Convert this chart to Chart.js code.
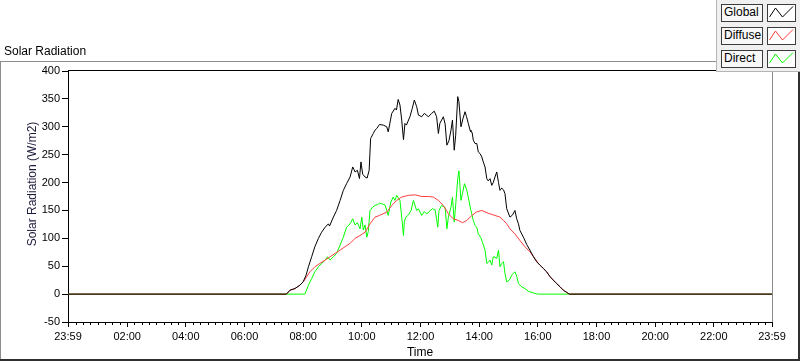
<!DOCTYPE html>
<html><head><meta charset="utf-8">
<script src="https://cdn.jsdelivr.net/npm/chart.js@4/dist/chart.umd.min.js"></script>
<style>
body{margin:0;background:#fff;width:800px;height:361px;overflow:hidden;position:relative;font-family:"Liberation Sans",Arial,sans-serif;color:#000;}
#wrap{position:absolute;left:0;top:0;width:800px;height:361px;}
.abs{position:absolute;box-sizing:border-box;}
.lbl{left:721px;width:42px;height:18px;border:1px solid #3c3c3c;background:#f8f8f8;font-size:12px;line-height:15px;padding-left:2px;}
.ico{left:767px;width:29px;height:18px;border:1px solid #3c3c3c;background:#fff;}
.ico svg{position:absolute;left:0;top:0;}
</style></head><body>
<div id="wrap"><canvas id="c" width="800" height="361"></canvas></div>
<div class="abs" style="left:4px;top:44px;font-size:12px;line-height:14px;">Solar Radiation</div>
<div class="abs" style="left:0;top:61px;width:717px;height:1px;background:#8c8c8c;"></div>
<div class="abs" style="left:0;top:61px;width:1px;height:299px;background:#8c8c8c;"></div>
<div class="abs" style="left:0;top:359px;width:800px;height:2px;background:#303030;"></div>
<div class="abs" style="left:798px;top:72px;width:2px;height:289px;background:#303030;"></div>
<div class="abs" style="left:716px;top:0;width:84px;height:72px;background:#f0f0f0;border-left:1px solid #b4b4b4;border-bottom:1px solid #b4b4b4;"></div>
<div id="legend"></div>
<script>
// ---- data (hours of day, W/m2) ----
const startHour = -1/60;           // 23:59 of previous day
const endHour = 24 - 1/60;         // 23:59
const xTickHours = [-1/60, 2, 4, 6, 8, 10, 12, 14, 16, 18, 20, 22, 24 - 1/60];
const xTickLabels = ['23:59','02:00','04:00','06:00','08:00','10:00','12:00','14:00','16:00','18:00','20:00','22:00','23:59'];
const yTickMin = -50, yTickMax = 400, yTickStep = 50;
const seriesNames = ['Global', 'Diffuse', 'Direct'];
const seriesColors = ['#000000', '#ff3c3c', '#00ff00'];

const globalReadings = [
 [-0.0167,0],[7.43,0],[7.55,7],[7.72,10],[7.89,16],[8.0,22],[8.1,34],[8.18,49],[8.29,67],[8.4,85],
 [8.52,100],[8.63,111],[8.75,120],[8.86,126],[8.9,122],[9.03,138],[9.14,150],[9.26,168],[9.37,186],[9.48,198],
 [9.6,210],[9.69,228],[9.77,219],[9.85,222],[9.92,207],[9.97,237],[10.03,215],[10.11,210],[10.18,208],[10.25,222],
 [10.3,279],[10.39,288],[10.45,294],[10.51,297],[10.6,304],[10.73,303],[10.85,300],[10.9,291],[11.02,324],[11.13,333],
 [11.18,330],[11.24,349],[11.3,339],[11.36,312],[11.42,277],[11.47,306],[11.52,303],[11.64,318],[11.72,333],[11.79,348],
 [11.87,336],[11.93,321],[12.04,318],[12.13,324],[12.2,321],[12.27,318],[12.38,324],[12.47,328],[12.55,318],[12.61,288],
 [12.66,306],[12.78,318],[12.84,305],[12.9,267],[12.97,275],[13.04,294],[13.09,312],[13.15,258],[13.2,285],[13.27,354],
 [13.31,345],[13.38,300],[13.45,315],[13.52,327],[13.57,318],[13.63,306],[13.69,294],[13.72,291],[13.76,290],[13.8,276],
 [13.86,270],[13.92,270],[13.97,255],[14.03,252],[14.09,246],[14.14,237],[14.2,228],[14.26,207],[14.31,203],[14.37,207],
 [14.43,195],[14.48,200],[14.54,210],[14.6,219],[14.66,200],[14.71,186],[14.77,190],[14.83,187],[14.88,180],[14.94,153],
 [15.05,138],[15.14,142],[15.22,150],[15.28,135],[15.34,126],[15.39,114],[15.51,102],[15.62,89],[15.73,79],[15.85,67],
 [15.96,58],[16.07,52],[16.19,46],[16.3,40],[16.42,31],[16.53,25],[16.64,19],[16.76,13],[16.87,7],[16.99,3],
 [17.07,0],[23.983,0]
];
const diffuseReadings = [
 [-0.0167,0],[7.43,0],[7.55,7],[7.72,10],[7.89,16],[8.0,22],[8.06,26],[8.23,40],[8.4,49],[8.57,55],
 [8.75,61],[8.92,67],[9.09,73],[9.26,79],[9.43,85],[9.6,91],[9.77,100],[9.94,105],[10.11,111],[10.28,126],
 [10.45,138],[10.6,141],[10.85,147],[11.02,159],[11.19,168],[11.36,174],[11.59,177],[11.82,178],[12.04,175],[12.27,175],
 [12.44,174],[12.61,168],[12.78,159],[12.95,144],[13.12,135],[13.29,132],[13.43,128],[13.58,132],[13.75,141],[13.9,147],
 [14.09,150],[14.31,145],[14.54,141],[14.71,138],[14.83,132],[14.94,126],[15.05,117],[15.22,108],[15.39,96],[15.56,85],
 [15.73,76],[15.9,64],[16.02,55],[16.19,46],[16.3,40],[16.42,31],[16.53,25],[16.64,19],[16.76,13],[16.87,7],
 [16.99,3],[17.07,0],[23.983,0]
];
const directReadings = [
 [-0.0167,0],[8.06,0],[8.18,16],[8.29,28],[8.4,40],[8.52,49],[8.63,55],[8.75,61],[8.83,67],[8.92,61],
 [9.03,67],[9.14,73],[9.26,88],[9.37,102],[9.48,120],[9.6,126],[9.69,135],[9.77,124],[9.85,128],[9.94,117],
 [10.0,138],[10.05,115],[10.11,124],[10.17,102],[10.22,112],[10.28,150],[10.37,156],[10.45,159],[10.52,160],[10.6,163],
 [10.68,162],[10.79,160],[10.85,150],[10.9,141],[10.99,165],[11.07,174],[11.13,168],[11.19,177],[11.25,172],[11.3,168],
 [11.36,138],[11.42,105],[11.45,130],[11.5,138],[11.59,142],[11.68,150],[11.76,168],[11.82,158],[11.87,150],[11.93,153],
 [12.04,141],[12.13,148],[12.2,144],[12.27,146],[12.33,150],[12.41,153],[12.5,151],[12.59,120],[12.63,150],[12.72,159],
 [12.84,155],[12.9,117],[12.95,138],[13.04,156],[13.09,174],[13.15,129],[13.2,160],[13.27,207],[13.31,221],[13.38,168],
 [13.43,180],[13.5,198],[13.57,188],[13.65,168],[13.72,150],[13.8,132],[13.86,123],[13.92,120],[13.97,108],[14.05,102],
 [14.12,92],[14.2,79],[14.26,55],[14.31,57],[14.37,61],[14.43,52],[14.48,67],[14.54,66],[14.6,64],[14.66,79],
 [14.71,49],[14.77,55],[14.83,58],[14.88,37],[14.94,22],[15.03,25],[15.11,34],[15.22,40],[15.28,32],[15.34,19],
 [15.45,13],[15.56,10],[15.68,5],[15.85,2],[16.0,0],[23.983,0]
];
const seriesReadings = [globalReadings, diffuseReadings, directReadings];

// ---- legend ----
const legendTops = [4, 27, 50];
const legendEl = document.getElementById('legend');
seriesNames.forEach((name, i) => {
  const l = document.createElement('div');
  l.className = 'abs lbl'; l.style.top = legendTops[i] + 'px'; l.textContent = name;
  legendEl.appendChild(l);
  const ic = document.createElement('div');
  ic.className = 'abs ico'; ic.style.top = legendTops[i] + 'px';
  ic.innerHTML = '<svg width="27" height="16"><polyline points="1.5,12 7.5,3 14.5,12 25,1.5" fill="none" stroke="' + seriesColors[i] + '" stroke-width="1"/></svg>';
  legendEl.appendChild(ic);
});

// ---- chart ----
const framePlugin = {
  id: 'frame',
  afterDraw(chart) {
    const {ctx, chartArea: a, scales} = chart;
    ctx.save();
    ctx.lineWidth = 1;
    ctx.strokeStyle = '#000';
    ctx.beginPath(); ctx.moveTo(a.left, a.top - 0.5); ctx.lineTo(a.right, a.top - 0.5); ctx.stroke();
    ctx.strokeStyle = '#8c8c8c';
    ctx.beginPath(); ctx.moveTo(a.right + 0.5, a.top); ctx.lineTo(a.right + 0.5, a.bottom); ctx.stroke();
    // minor ticks every 15 min
    ctx.strokeStyle = '#000';
    ctx.beginPath();
    for (let m = 15; m < 24 * 60; m += 15) {
      if (m % 120 === 0) continue;
      const px = Math.round(scales.x.getPixelForValue(m / 60)) + 0.5;
      ctx.moveTo(px, a.bottom); ctx.lineTo(px, a.bottom + 3);
    }
    ctx.stroke();
    // y axis title
    ctx.fillStyle = '#1a1a3a';
    ctx.font = '12px "Liberation Sans", Arial, sans-serif';
    ctx.textAlign = 'center'; ctx.textBaseline = 'middle';
    ctx.translate(33, 184); ctx.rotate(-Math.PI / 2);
    ctx.fillText('Solar Radiation (W/m2)', 0, 0);
    ctx.restore();
  }
};

const tickFont = {family: '"Liberation Sans", Arial, sans-serif', size: 11};
new Chart(document.getElementById('c'), {
  type: 'line',
  data: {
    datasets: seriesNames.map((name, i) => ({
      label: name,
      data: seriesReadings[i].map(([x, y]) => ({x, y})),
      borderColor: seriesColors[i],
      borderWidth: 1,
      pointRadius: 0,
      tension: 0,
      fill: false
    }))
  },
  options: {
    responsive: false,
    animation: false,
    layout: {padding: {left: 0, top: 71, right: 28, bottom: 0}},
    plugins: {legend: {display: false}, tooltip: {enabled: false}},
    scales: {
      x: {
        type: 'linear', min: startHour, max: endHour,
        afterBuildTicks: s => { s.ticks = xTickHours.map(v => ({value: v})); },
        afterFit: s => { s.height = 39; },
        ticks: {autoSkip: false, maxRotation: 0, padding: 3, color: '#000', font: tickFont,
          callback: (v, i) => xTickLabels[i]},
        grid: {display: true, drawOnChartArea: false, drawTicks: true, tickLength: 5, color: '#000'},
        border: {display: true, color: '#000', width: 1},
        title: {display: true, text: 'Time', color: '#000', font: {family: '"Liberation Sans", Arial, sans-serif', size: 12}, padding: {top: 0, bottom: 1}}
      },
      y: {
        min: yTickMin, max: yTickMax,
        afterFit: s => { s.width = 68; },
        ticks: {stepSize: yTickStep, padding: 2, color: '#000', font: tickFont},
        grid: {display: true, drawOnChartArea: false, drawTicks: true, tickLength: 6, color: '#000'},
        border: {display: true, color: '#000', width: 1}
      }
    }
  },
  plugins: [framePlugin]
});
</script>
</body></html>
